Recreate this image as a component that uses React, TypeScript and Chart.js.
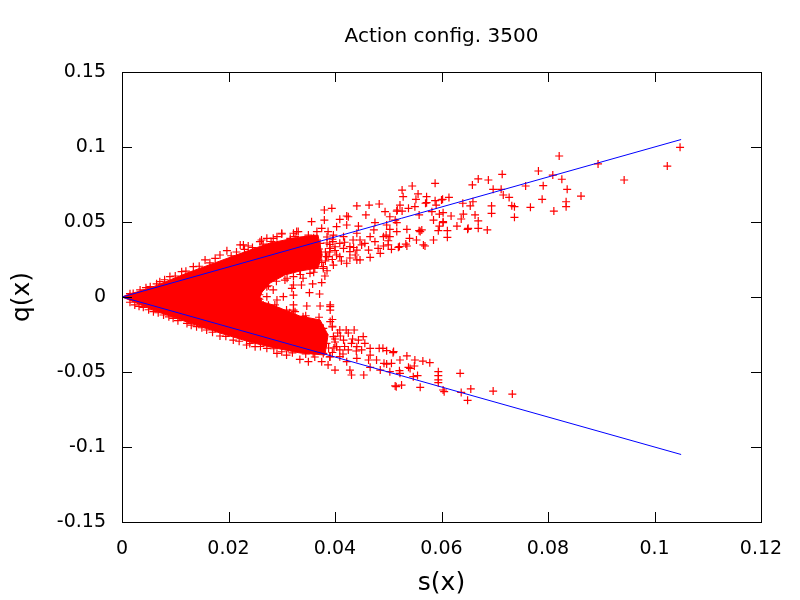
import React, { useEffect, useRef } from 'react';
import { Chart, registerables } from 'chart.js';

Chart.register(...registerables);

const FONT = 'DejaVu Sans';

const TITLE = 'Action config. 3500';
const X_TITLE = 's(x)';
const Y_TITLE = 'q(x)';

const X_TICK_LABELS = ['0', '0.02', '0.04', '0.06', '0.08', '0.1', '0.12'];
const Y_TICK_LABELS = ['-0.15', '-0.1', '-0.05', '0', '0.05', '0.1', '0.15'];

// the two blue reference lines q = +s and q = -s
const FIT_S = [0, 0.105];
const FIT_UPPER = [0, 0.105];
const FIT_LOWER = [0, -0.105];

// outline of the solid red wedge near the origin (s, q)
const DENSE_OUTLINE: [number, number][] = [
  [0, 0], [0.0009, 0.0013], [0.0058, 0.0067], [0.0122, 0.016], [0.0184, 0.024],
  [0.024, 0.0313], [0.0278, 0.036], [0.0334, 0.04], [0.0368, 0.0413],
  [0.0376, 0.028], [0.0368, 0.0193],
  [0.0334, 0.0173], [0.0306, 0.0147], [0.0278, 0.0093], [0.0263, 0.0033], [0.0259, 0],
  [0.0263, -0.0033], [0.0278, -0.0047], [0.0306, -0.0087], [0.0334, -0.0127], [0.0372, -0.0153],
  [0.0387, -0.0253], [0.0381, -0.0387],
  [0.0334, -0.0373], [0.0278, -0.0333], [0.024, -0.03], [0.0184, -0.024],
  [0.0122, -0.0167], [0.0058, -0.0087], [0.0009, -0.0013], [0, 0],
];

// scattered points, upper arm (s, q)
const UPPER_ARM: [number, number][] = [
  [0.1048, 0.0998], [0.1024, 0.0873], [0.0943, 0.078], [0.0894, 0.0887], [0.0821, 0.094],
  [0.0782, 0.084], [0.0809, 0.0813], [0.0826, 0.0785], [0.0836, 0.0718], [0.0862, 0.0673],
  [0.0834, 0.0635], [0.0834, 0.0602], [0.0811, 0.0573], [0.0789, 0.0651], [0.0767, 0.0598],
  [0.0791, 0.0742], [0.0758, 0.074], [0.0714, 0.0818], [0.0688, 0.078], [0.0669, 0.0787],
  [0.0658, 0.0747], [0.0697, 0.0718], [0.0712, 0.0718], [0.0716, 0.068], [0.0727, 0.0664],
  [0.0732, 0.0609], [0.0737, 0.0602], [0.0737, 0.0531], [0.0694, 0.0607], [0.0694, 0.0558],
  [0.0686, 0.0447], [0.0669, 0.0458], [0.0669, 0.0507], [0.0659, 0.0635], [0.0654, 0.0607],
  [0.064, 0.0625], [0.0637, 0.052], [0.0629, 0.0473], [0.065, 0.0458], [0.0663, 0.0547],
  [0.0641, 0.0553], [0.0618, 0.054], [0.0614, 0.0664], [0.06, 0.0647], [0.0588, 0.0642],
  [0.0588, 0.0758], [0.0572, 0.0669], [0.0572, 0.0629], [0.0556, 0.0687], [0.0545, 0.074],
  [0.0526, 0.0713], [0.0528, 0.0669], [0.0552, 0.0651], [0.055, 0.0602], [0.0538, 0.0591],
  [0.0516, 0.0573], [0.0494, 0.0569], [0.0526, 0.0573], [0.0558, 0.0547], [0.0582, 0.0569],
  [0.0596, 0.0553], [0.0603, 0.0562], [0.0585, 0.0513], [0.0603, 0.0502], [0.0596, 0.0473],
  [0.0563, 0.0447], [0.0558, 0.0442], [0.0535, 0.0451], [0.0516, 0.0496], [0.0513, 0.0513],
  [0.0497, 0.048], [0.0496, 0.0413], [0.0503, 0.0451], [0.054, 0.0391], [0.0533, 0.0353],
  [0.0521, 0.0336], [0.0506, 0.0318], [0.0491, 0.034], [0.0569, 0.034], [0.0585, 0.038],
  [0.0611, 0.0398], [0.0611, 0.0442], [0.0649, 0.0451], [0.057, 0.0625], [0.0522, 0.0613],
  [0.0602, 0.0651], [0.059, 0.0613], [0.0517, 0.058], [0.0503, 0.0535], [0.0483, 0.062],
  [0.0464, 0.0613], [0.0458, 0.0547], [0.0441, 0.0607], [0.0394, 0.0591], [0.038, 0.058],
  [0.0356, 0.0502], [0.038, 0.0513], [0.0409, 0.0518], [0.0425, 0.0535], [0.0422, 0.048],
  [0.0444, 0.0473], [0.0475, 0.0496], [0.0473, 0.0447], [0.056, 0.0436], [0.0594, 0.0442],
  [0.0603, 0.0496], [0.0566, 0.0347], [0.0553, 0.038], [0.0535, 0.034], [0.0519, 0.0331],
  [0.05, 0.0375], [0.05, 0.0347], [0.0481, 0.0324], [0.0485, 0.0291], [0.0466, 0.0264],
  [0.0463, 0.0313], [0.0447, 0.038], [0.045, 0.0347], [0.0441, 0.0313], [0.0441, 0.0247],
  [0.0428, 0.0302], [0.0428, 0.0336], [0.0416, 0.0402], [0.0409, 0.0358], [0.0397, 0.0413],
  [0.0396, 0.0369], [0.0391, 0.0324], [0.0403, 0.028], [0.0384, 0.0269], [0.0375, 0.0458],
  [0.0366, 0.0436], [0.035, 0.0413], [0.0331, 0.0436], [0.0325, 0.0402], [0.0503, 0.0402],
  [0.0516, 0.0436], [0.0422, 0.054], [0.0328, 0.0436], [0.03, 0.0425], [0.0284, 0.0391],
  [0.0262, 0.038], [0.0228, 0.0347], [0.0316, 0.038], [0.0328, 0.0291], [0.034, 0.0336],
  [0.0353, 0.0247], [0.0366, 0.0291], [0.0372, 0.0358], [0.0378, 0.0202], [0.0387, 0.0269],
  [0.0397, 0.0213], [0.0409, 0.0269], [0.0416, 0.0324], [0.0422, 0.0225], [0.0334, 0.018],
  [0.0353, 0.0158], [0.0322, 0.0136], [0.034, 0.0125], [0.0362, 0.0191], [0.0434, 0.038],
  [0.0438, 0.028], [0.0447, 0.0247], [0.0456, 0.0358], [0.0466, 0.0402], [0.0475, 0.0369],
  [0.0491, 0.0402], [0.0441, 0.0425], [0.0403, 0.0469], [0.0387, 0.0436],
  [0.0335, 0.0355], [0.0345, 0.03], [0.035, 0.0215], [0.0357, 0.0345], [0.0365, 0.026],
  [0.037, 0.032], [0.0375, 0.023], [0.0382, 0.03], [0.039, 0.035], [0.0395, 0.025],
  [0.033, 0.025], [0.0338, 0.02], [0.0346, 0.038], [0.036, 0.0395], [0.0385, 0.04],
  [0.04, 0.031], [0.0412, 0.024], [0.0418, 0.0365], [0.0428, 0.026], [0.0435, 0.033],
  [0.0385, 0.036], [0.039, 0.03], [0.0382, 0.024], [0.0378, 0.019], [0.0395, 0.0385],
  [0.04, 0.0335],
  [0.0222, 0.0347], [0.0237, 0.034], [0.0197, 0.0309], [0.0184, 0.028], [0.0156, 0.0247],
  [0.0134, 0.0202], [0.0112, 0.0169], [0.009, 0.0136], [0.0071, 0.0102], [0.0053, 0.0069],
  [0.0034, 0.0047], [0.0021, 0.0024], [0.0259, 0.0369], [0.0272, 0.0391], [0.0291, 0.0402],
  [0.03, 0.042], [0.0316, 0.0391], [0.0322, 0.0425],
  [0.0015, 0.0022], [0.0045, 0.0062], [0.0065, 0.0088], [0.008, 0.0115], [0.01, 0.014],
  [0.012, 0.0172], [0.0145, 0.0205], [0.0165, 0.0228], [0.0175, 0.0258], [0.0205, 0.0275],
  [0.0215, 0.03], [0.023, 0.0318], [0.0245, 0.033], [0.0265, 0.0352], [0.028, 0.037],
];

// scattered points, lower arm (s, q)
const LOWER_ARM: [number, number][] = [
  [0.0733, -0.0647], [0.0697, -0.0627], [0.0655, -0.0613], [0.0649, -0.0689], [0.0637, -0.0636],
  [0.0635, -0.0509], [0.0605, -0.0631], [0.0594, -0.0571], [0.0594, -0.0498], [0.0594, -0.0524],
  [0.056, -0.0602], [0.0578, -0.0438], [0.0565, -0.0427], [0.055, -0.042], [0.0535, -0.0393],
  [0.0521, -0.0491], [0.0513, -0.0593], [0.0525, -0.0587], [0.0515, -0.0598], [0.0547, -0.0531],
  [0.0555, -0.0524], [0.0549, -0.046], [0.0541, -0.0476], [0.0506, -0.0442], [0.0492, -0.0442],
  [0.051, -0.0364], [0.049, -0.0342], [0.0522, -0.042], [0.0594, -0.0553], [0.0603, -0.062],
  [0.0421, -0.022], [0.0436, -0.022], [0.0453, -0.0264], [0.0444, -0.0287], [0.0466, -0.0342],
  [0.0483, -0.0342], [0.0497, -0.0358], [0.0509, -0.0371], [0.0538, -0.0469], [0.0522, -0.0509],
  [0.0503, -0.0498], [0.0485, -0.0487], [0.0466, -0.0469], [0.0454, -0.052], [0.0431, -0.052],
  [0.0428, -0.0487], [0.04, -0.0487], [0.0387, -0.0453], [0.0375, -0.0431], [0.035, -0.0431],
  [0.0334, -0.0416], [0.0466, -0.0387], [0.0478, -0.042], [0.0497, -0.0447], [0.0441, -0.0331],
  [0.0425, -0.0353], [0.0409, -0.0398], [0.0391, -0.0398], [0.0409, -0.0353],
  [0.0322, -0.0087], [0.0328, -0.0175], [0.034, -0.0131], [0.035, -0.022], [0.0359, -0.0175],
  [0.0369, -0.0264], [0.0378, -0.0209], [0.0384, -0.0309], [0.0397, -0.0264], [0.0403, -0.0331],
  [0.0328, -0.0287], [0.034, -0.0342], [0.0359, -0.0376], [0.0378, -0.0376], [0.0416, -0.0287],
  [0.0431, -0.0309], [0.045, -0.0353], [0.0456, -0.0309], [0.0441, -0.0409], [0.0422, -0.0431],
  [0.0463, -0.042], [0.0353, -0.0264], [0.0334, -0.0231], [0.0319, -0.0253], [0.0391, -0.0164],
  [0.0409, -0.022],
  [0.0335, -0.02], [0.0345, -0.029], [0.0352, -0.033], [0.036, -0.022], [0.0365, -0.03],
  [0.0372, -0.035], [0.038, -0.025], [0.0388, -0.034], [0.0395, -0.0195], [0.04, -0.03],
  [0.041, -0.026], [0.0418, -0.033], [0.0425, -0.024], [0.0433, -0.028], [0.044, -0.036],
  [0.033, -0.034], [0.0345, -0.038], [0.0362, -0.04], [0.0395, -0.037], [0.0415, -0.038],
  [0.0395, -0.02], [0.04, -0.028], [0.0398, -0.034], [0.039, -0.04], [0.0405, -0.024],
  [0.025, -0.0331], [0.0234, -0.032], [0.0209, -0.0287], [0.0184, -0.026], [0.0159, -0.022],
  [0.014, -0.0198], [0.0122, -0.0176], [0.0096, -0.0142], [0.0078, -0.012], [0.0059, -0.0098],
  [0.004, -0.0069], [0.0024, -0.0053], [0.0272, -0.0342], [0.0291, -0.0376], [0.0309, -0.0387],
  [0.0312, -0.0342],
  [0.0015, -0.0035], [0.0032, -0.0062], [0.005, -0.0085], [0.0068, -0.0105], [0.0088, -0.0132],
  [0.0105, -0.0158], [0.013, -0.0188], [0.015, -0.0205], [0.017, -0.0235], [0.0195, -0.0262],
  [0.022, -0.0295], [0.024, -0.031], [0.026, -0.033], [0.0285, -0.0345], [0.03, -0.0365],
  [0.032, -0.0372],
];

// scattered points inside the notch between the arms (s, q)
const MIDDLE: [number, number][] = [
  [0.0381, 0.014], [0.0358, 0.0087], [0.0375, 0.0096], [0.0337, 0.008], [0.0322, 0.008],
  [0.0303, 0.0002], [0.0322, 0.0013], [0.0352, 0.0029], [0.0371, 0.002], [0.0391, -0.0053],
  [0.0391, -0.0087], [0.0372, -0.006], [0.0347, -0.006], [0.0322, -0.0053], [0.0291, -0.002],
  [0.0284, 0.0047], [0.0272, 0.0069], [0.0287, -0.0053], [0.0309, -0.0087], [0.0272, 0.0002],
  [0.0259, -0.0042], [0.0265, 0.008], [0.0247, 0.0058], [0.0256, -0.0009], [0.0265, -0.0053],
  [0.0281, -0.0076], [0.0319, 0.0058], [0.0306, 0.0113], [0.03, -0.0131], [0.0325, -0.0098],
  [0.0391, -0.0064], [0.0245, 0.003], [0.025, -0.004], [0.0262, 0.0095], [0.0262, -0.009],
  [0.029, 0.014], [0.0295, -0.015],
  [0.0275, 0.0075], [0.029, 0.0105], [0.031, 0.0125], [0.0335, 0.015], [0.036, 0.0165],
  [0.0385, 0.0175], [0.0275, -0.0055], [0.029, -0.0075], [0.0315, -0.0105], [0.0345, -0.0125],
  [0.037, -0.0135], [0.0395, -0.015], [0.0258, 0.0015], [0.0258, -0.0015],
];

const toXY = (pts: [number, number][]) => pts.map(([x, y]) => ({ x, y }));

const tickLabel = (labels: string[]) => (value: number | string) => {
  const v = Number(value);
  const hit = labels.find((l) => Math.abs(parseFloat(l) - v) < 1e-9);
  return hit ?? '';
};

// gnuplot style box with inward ticks on all four sides
const framePlugin = {
  id: 'frame',
  afterDraw(chart: any) {
    const { ctx, chartArea, scales } = chart;
    const { left, right, top, bottom } = chartArea;
    const len = 10;
    ctx.save();
    ctx.strokeStyle = '#000';
    ctx.lineWidth = 1;
    ctx.beginPath();
    scales.x.ticks.forEach((t: any) => {
      const px = Math.round(scales.x.getPixelForValue(t.value)) + 0.5;
      ctx.moveTo(px, bottom);
      ctx.lineTo(px, bottom - len);
      ctx.moveTo(px, top);
      ctx.lineTo(px, top + len);
    });
    scales.y.ticks.forEach((t: any) => {
      const py = Math.round(scales.y.getPixelForValue(t.value)) + 0.5;
      ctx.moveTo(left, py);
      ctx.lineTo(left + len, py);
      ctx.moveTo(right, py);
      ctx.lineTo(right - len, py);
    });
    ctx.stroke();
    ctx.strokeRect(Math.round(left) + 0.5, Math.round(top) + 0.5, Math.round(right - left), Math.round(bottom - top));
    ctx.restore();
  },
};

export default function App() {
  const chartRef = useRef<HTMLCanvasElement | null>(null);
  const chartInstanceRef = useRef<Chart | null>(null);

  useEffect(() => {
    if (chartInstanceRef.current) {
      chartInstanceRef.current.destroy();
    }
    if (!chartRef.current) return;

    const red = '#ff0000';
    const tickFont = { family: FONT, size: 19 };

    chartInstanceRef.current = new Chart(chartRef.current, {
      type: 'scatter',
      data: {
        datasets: [
          {
            type: 'line',
            label: 'upper fit',
            data: FIT_S.map((s, i) => ({ x: s, y: FIT_UPPER[i] })),
            borderColor: '#0000ff',
            borderWidth: 1,
            pointRadius: 0,
            showLine: true,
            fill: false,
            order: 0,
          },
          {
            type: 'line',
            label: 'lower fit',
            data: FIT_S.map((s, i) => ({ x: s, y: FIT_LOWER[i] })),
            borderColor: '#0000ff',
            borderWidth: 1,
            pointRadius: 0,
            showLine: true,
            fill: false,
            order: 0,
          },
          {
            label: 'points',
            data: [...toXY(UPPER_ARM), ...toXY(LOWER_ARM), ...toXY(MIDDLE)],
            pointStyle: 'cross',
            pointRadius: 4,
            pointBorderWidth: 1.2,
            borderColor: red,
            backgroundColor: red,
            order: 1,
          },
          {
            type: 'line',
            label: 'dense',
            data: toXY(DENSE_OUTLINE),
            borderColor: red,
            backgroundColor: red,
            borderWidth: 1,
            pointRadius: 0,
            showLine: true,
            tension: 0,
            fill: 'shape',
            order: 2,
          },
        ] as any,
      },
      options: {
        animation: false,
        responsive: false,
        devicePixelRatio: 1,
        events: [],
        layout: { padding: { left: 0, right: 39, top: 0, bottom: 0 } },
        plugins: {
          legend: { display: false },
          tooltip: { enabled: false },
          title: {
            display: true,
            text: TITLE,
            fullSize: false,
            color: '#000',
            font: { family: FONT, size: 20, weight: 'normal' },
            padding: { top: 25, bottom: 23 },
          },
        },
        scales: {
          x: {
            type: 'linear',
            min: 0,
            max: 0.12,
            afterFit: (scale: any) => {
              scale.height = 78;
            },
            grid: { display: false, drawTicks: false },
            border: { display: false },
            ticks: {
              stepSize: 0.02,
              autoSkip: false,
              maxRotation: 0,
              padding: 16,
              color: '#000',
              font: tickFont,
              callback: tickLabel(X_TICK_LABELS),
            },
            title: {
              display: true,
              text: X_TITLE,
              color: '#000',
              font: { family: FONT, size: 25 },
              padding: { top: 0, bottom: 2 },
            },
          },
          y: {
            type: 'linear',
            min: -0.15,
            max: 0.15,
            afterFit: (scale: any) => {
              scale.width = 122;
            },
            grid: { display: false, drawTicks: false },
            border: { display: false },
            ticks: {
              stepSize: 0.05,
              autoSkip: false,
              padding: 16,
              color: '#000',
              font: tickFont,
              callback: tickLabel(Y_TICK_LABELS),
            },
            title: {
              display: true,
              text: Y_TITLE,
              color: '#000',
              font: { family: FONT, size: 25 },
              padding: { top: 7, bottom: 0 },
            },
          },
        },
      } as any,
      plugins: [framePlugin],
    });

    return () => {
      if (chartInstanceRef.current) {
        chartInstanceRef.current.destroy();
        chartInstanceRef.current = null;
      }
    };
  }, []);

  return (
    <div style={{ position: 'fixed', left: 0, top: 0, width: 800, height: 600, background: '#fff' }}>
      <canvas ref={chartRef} width={800} height={600} style={{ display: 'block' }} />
    </div>
  );
}
